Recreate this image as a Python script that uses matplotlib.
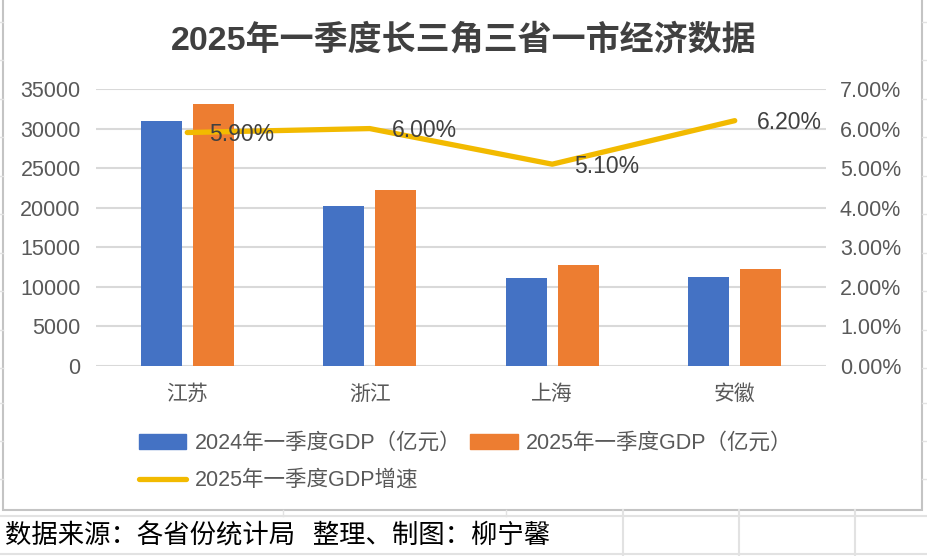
import matplotlib
matplotlib.use("Agg")
import matplotlib.pyplot as plt
from matplotlib.lines import Line2D
from matplotlib.patches import Patch, Rectangle
from matplotlib.ticker import FuncFormatter, MultipleLocator

# data
regions = ["江苏", "浙江", "上海", "安徽"]
gdp_2024 = [31000, 20200, 11100, 11300]
gdp_2025 = [33100, 22300, 12700, 12300]
growth_2025 = [5.9, 6.0, 5.1, 6.2]

title = "2025年一季度长三角三省一市经济数据"
label_2024 = "2024年一季度GDP（亿元）"
label_2025 = "2025年一季度GDP（亿元）"
label_growth = "2025年一季度GDP增速"
source = "数据来源：各省份统计局   整理、制图：柳宁馨"

BLUE = "#4472C4"
ORANGE = "#ED7D31"
GOLD = "#F2BA00"
GRID = "#D9D9D9"
TXT = "#595959"

W, H = 928, 556
mixed = ["Liberation Sans", "Noto Sans CJK SC"]
cjk = ["Noto Sans CJK SC", "DejaVu Sans"]

fig = plt.figure(figsize=(W / 100, H / 100), dpi=100)
fig.patch.set_facecolor("white")


def fx(x):
    return x / W


def fy(y):
    return 1 - y / H


# spreadsheet cells behind the chart
cell = "#E2E2E2"
for y in [22, 60, 99, 137, 176, 214, 253, 291, 330, 368, 403, 441, 479]:
    fig.add_artist(Line2D([0, fx(3)], [fy(y), fy(y)], color=cell, lw=1))
    fig.add_artist(Line2D([fx(922), 1], [fy(y), fy(y)], color=cell, lw=1))
for y in [516, 554]:
    fig.add_artist(Line2D([0, 1], [fy(y), fy(y)], color=cell, lw=1.5))
for x in [283, 506]:
    fig.add_artist(Line2D([fx(x), fx(x)], [fy(510), fy(516)], color=cell, lw=1))
for x in [623, 739, 855]:
    fig.add_artist(Line2D([fx(x), fx(x)], [fy(510), fy(556)], color=cell, lw=1.5))

# chart frame
fig.add_artist(Rectangle((fx(3), fy(510)), fx(919), fy(-5) - fy(510),
                         transform=fig.transFigure, facecolor="white",
                         edgecolor="#C4C4C4", lw=1.5, zorder=0))

ax = fig.add_axes([fx(96), fy(366), fx(826 - 96), fy(89) - fy(366)])
ax.set_facecolor("none")
ax2 = ax.twinx()

x = list(range(len(regions)))
bw = 0.225
off = 0.1425
ax.bar([i - off for i in x], gdp_2024, width=bw, color=BLUE, zorder=3)
ax.bar([i + off for i in x], gdp_2025, width=bw, color=ORANGE, zorder=3)

ax.set_xlim(-0.5, len(regions) - 0.5)
ax.set_ylim(0, 35000)
ax.yaxis.set_major_locator(MultipleLocator(5000))
ax.grid(axis="y", color=GRID, lw=1.5, zorder=0)
ax.set_axisbelow(True)
ax.set_xticks(x)
ax.set_xticklabels(regions, family=cjk, fontsize=15, color=TXT, weight="light")
ax.tick_params(axis="x", length=0, pad=12)
ax.tick_params(axis="y", length=0, pad=11, labelsize=15.5, labelcolor=TXT)
for t in ax.get_yticklabels():
    t.set_family("Liberation Sans")
for s in ax.spines.values():
    s.set_visible(False)
for s in ax2.spines.values():
    s.set_visible(False)

ax2.plot(x, growth_2025, color=GOLD, lw=3.8, solid_capstyle="round",
         solid_joinstyle="round", zorder=4)
ax2.set_ylim(0, 7)
ax2.yaxis.set_major_locator(MultipleLocator(1))
ax2.yaxis.set_major_formatter(FuncFormatter(lambda v, p: f"{v:.2f}%"))
ax2.tick_params(axis="y", length=0, pad=10, labelsize=15.5, labelcolor=TXT)
for t in ax2.get_yticklabels():
    t.set_family("Liberation Sans")
for i, v in enumerate(growth_2025):
    ax2.annotate(f"{v:.2f}%", (i, v), xytext=(22, -2), textcoords="offset pixels",
                 ha="left", va="center", fontsize=16.5, color="#404040",
                 family="Liberation Sans", zorder=5)

fig.text(0.5, fy(40), title, ha="center", va="center", fontsize=24.5,
         weight="bold", color="#404040", family=mixed)

handles = [Patch(color=BLUE), Line2D([0], [0], color=GOLD, lw=3.8, solid_capstyle="round"),
           Patch(color=ORANGE)]
labels = [label_2024, label_growth, label_2025]
leg = fig.legend(handles, labels, loc="upper left", bbox_to_anchor=(fx(139), fy(433)),
                 ncol=2, frameon=False, borderpad=0, borderaxespad=0,
                 handlelength=2.2, handleheight=0.65, handletextpad=0.4,
                 columnspacing=0.4, labelspacing=0.75,
                 prop={"family": mixed, "size": 15.5})
for t in leg.get_texts():
    t.set_color(TXT)

fig.text(fx(5), fy(536), source, ha="left", va="center", fontsize=19,
         color="black", family=cjk)

fig.savefig("out.png", dpi=100, facecolor="white")
